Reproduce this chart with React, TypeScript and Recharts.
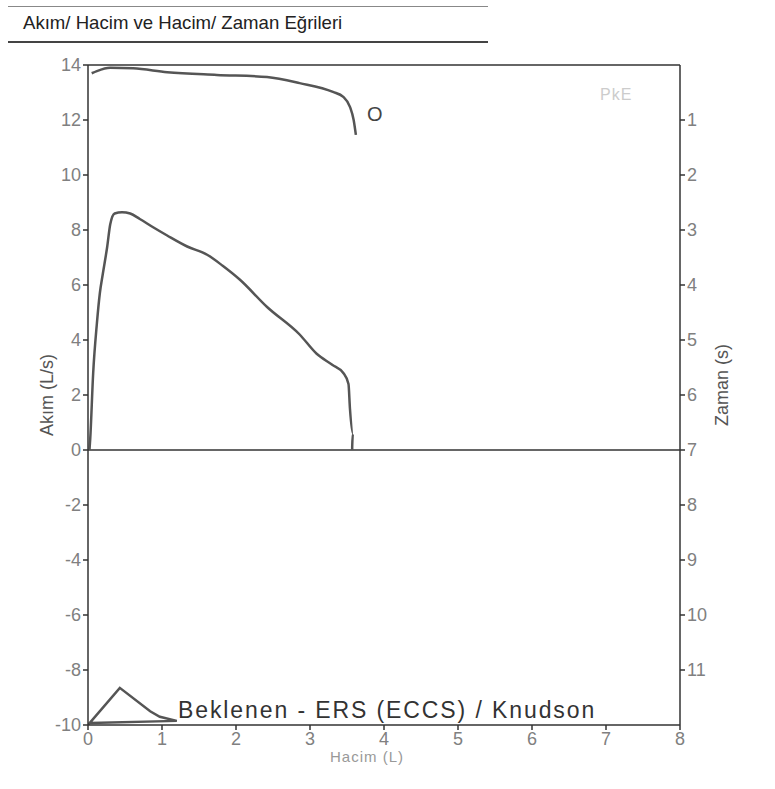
import React from "react";
import {
  LineChart,
  Line,
  XAxis,
  YAxis,
  ReferenceLine,
} from "recharts";

// Akım / Hacim eğrisi (flow-volume), hacim L, akım L/s
const fvVolume = [0.02, 0.03, 0.07, 0.12, 0.16, 0.2, 0.26, 0.3, 0.36, 0.46, 0.57, 0.7, 0.88, 1.07, 1.34, 1.61, 1.82, 2.05, 2.42, 2.86, 3.09, 3.3, 3.45, 3.52, 3.54, 3.58, 3.57, 3.57];
const fvFlow = [0, 0.4, 2.8, 4.6, 5.7, 6.4, 7.4, 8.2, 8.6, 8.65, 8.6, 8.4, 8.1, 7.8, 7.4, 7.1, 6.7, 6.2, 5.2, 4.2, 3.5, 3.1, 2.8, 2.4, 1.5, 0.6, 0.1, 0];

// Hacim / Zaman eğrisi (volume-time), zaman s (sağ eksen)
const vtVolume = [0.05, 0.12, 0.3, 0.61, 1.07, 1.74, 2.42, 2.86, 3.31, 3.45, 3.54, 3.59, 3.62];
const vtTime = [0.15, 0.11, 0.05, 0.06, 0.13, 0.18, 0.22, 0.33, 0.49, 0.58, 0.76, 1.0, 1.27];

// Beklenen (predicted) glyph
const predVolume = [0.0, 0.43, 0.84, 0.97, 1.2, 0.03];
const predFlow = [-10.0, -8.65, -9.5, -9.7, -9.85, -9.93];

const volumeTicks = [0, 1, 2, 3, 4, 5, 6, 7, 8];
const flowTicks = [-10, -8, -6, -4, -2, 0, 2, 4, 6, 8, 10, 12, 14];
const timeTicks = [1, 2, 3, 4, 5, 6, 7, 8, 9, 10, 11];

const fvData = fvVolume.map((v, i) => ({ v, f: fvFlow[i] }));
const vtData = vtVolume.map((v, i) => ({ v, t: vtTime[i] }));
const predData = predVolume.map((v, i) => ({ v, f: predFlow[i] }));

const FONT = "'Liberation Sans', Arial, sans-serif";
const tickStyle = { fill: "#808080", fontSize: 18, fontFamily: FONT };

const App: React.FC = () => {
  return (
    <div
      style={{
        position: "absolute",
        left: 0,
        top: 0,
        width: 775,
        height: 789,
        background: "#fff",
        fontFamily: FONT,
      }}
    >
      <div style={{ position: "absolute", left: 8, top: 6, width: 480, borderTop: "1px solid #888" }} />
      <div
        style={{
          position: "absolute",
          left: 23,
          top: 12,
          fontSize: 18.6,
          color: "#222",
          whiteSpace: "nowrap",
        }}
      >
        Akım/ Hacim ve Hacim/ Zaman Eğrileri
      </div>
      <div style={{ position: "absolute", left: 8, top: 41, width: 480, borderTop: "2px solid #444" }} />

      <div style={{ position: "absolute", left: 0, top: 0 }}>
        <LineChart
          width={775}
          height={789}
          margin={{ top: 65, right: 50, bottom: 34, left: 45 }}
        >
          <XAxis
            type="number"
            dataKey="v"
            domain={[0, 8]}
            ticks={volumeTicks}
            allowDataOverflow
            stroke="#333"
            strokeWidth={1.5}
            tick={tickStyle}
            tickSize={5}
            height={30}
          />
          <YAxis
            yAxisId="flow"
            type="number"
            domain={[-10, 14]}
            ticks={flowTicks}
            allowDataOverflow
            stroke="#333"
            strokeWidth={1.5}
            tick={tickStyle}
            tickSize={5}
            width={43}
          />
          <YAxis
            yAxisId="time"
            orientation="right"
            type="number"
            domain={[0, 12]}
            reversed
            ticks={timeTicks}
            allowDataOverflow
            stroke="#333"
            strokeWidth={1.5}
            tick={tickStyle}
            tickSize={5}
            width={45}
          />
          <ReferenceLine yAxisId="flow" y={14} stroke="#333" strokeWidth={1.5} />
          <ReferenceLine yAxisId="flow" y={0} stroke="#333" strokeWidth={1.5} />
          <Line
            yAxisId="flow"
            data={fvData}
            dataKey="f"
            type="monotone"
            stroke="#555"
            strokeWidth={2.5}
            dot={false}
            isAnimationActive={false}
          />
          <Line
            yAxisId="time"
            data={vtData}
            dataKey="t"
            type="monotone"
            stroke="#555"
            strokeWidth={2.5}
            dot={false}
            isAnimationActive={false}
          />
          <Line
            yAxisId="flow"
            data={predData}
            dataKey="f"
            type="linear"
            stroke="#555"
            strokeWidth={2.5}
            dot={false}
            isAnimationActive={false}
          />
        </LineChart>
      </div>

      <div
        style={{
          position: "absolute",
          left: 47,
          top: 395,
          transform: "translate(-50%, -50%) rotate(-90deg)",
          fontSize: 18,
          color: "#555",
          whiteSpace: "nowrap",
        }}
      >
        Akım (L/s)
      </div>
      <div
        style={{
          position: "absolute",
          left: 722,
          top: 385,
          transform: "translate(-50%, -50%) rotate(-90deg)",
          fontSize: 18,
          color: "#555",
          whiteSpace: "nowrap",
        }}
      >
        Zaman (s)
      </div>
      <div
        style={{
          position: "absolute",
          left: 330,
          top: 748,
          fontSize: 15,
          color: "#999",
          letterSpacing: 1,
          whiteSpace: "nowrap",
        }}
      >
        Hacim (L)
      </div>
      <div
        style={{
          position: "absolute",
          left: 178,
          top: 697,
          fontSize: 23,
          letterSpacing: 1.9,
          color: "#333",
          whiteSpace: "nowrap",
        }}
      >
        Beklenen - ERS (ECCS) / Knudson
      </div>
      <div
        style={{
          position: "absolute",
          left: 367,
          top: 103,
          fontSize: 20,
          color: "#444",
        }}
      >
        O
      </div>
      <div
        style={{
          position: "absolute",
          left: 600,
          top: 86,
          fontSize: 16,
          color: "#ccc",
          letterSpacing: 1,
        }}
      >
        PkE
      </div>
    </div>
  );
};

export default App;
